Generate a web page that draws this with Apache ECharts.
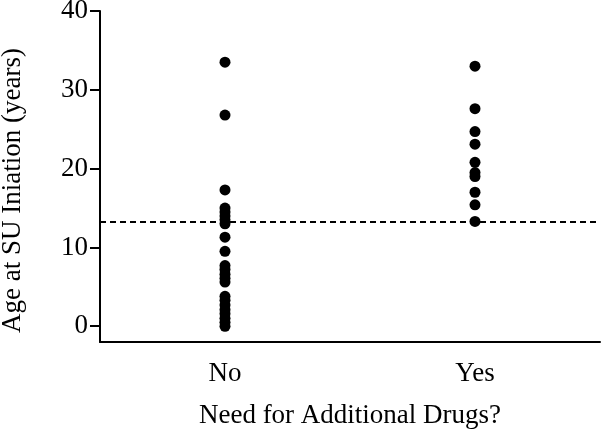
<!DOCTYPE html>
<html>
<head>
<meta charset="utf-8">
<script src="https://cdn.jsdelivr.net/npm/echarts@6/dist/echarts.min.js"></script>
<style>
  html, body { margin: 0; padding: 0; background: #fff; }
  #chart { width: 601px; height: 429px; }
</style>
</head>
<body>
<div id="chart"></div>
<script>
var categories = ["No", "Yes"];
var noValues = [33.5, 26.8, 17.3, 15.0, 14.5, 14.0, 13.5, 13.0, 11.3, 9.5,
  7.7, 7.2, 6.6, 6.1, 5.6, 3.8, 3.3, 2.7, 2.1, 1.6, 1.0, 0.5, 0.0];
var yesValues = [33.0, 27.6, 24.7, 23.1, 20.8, 19.5, 19.0, 17.0, 15.4, 13.3];
var cutoff = 13.2;
var yTicks = [0, 10, 20, 30, 40];

var pts = [];
noValues.forEach(function (v) { pts.push([categories[0], v]); });
yesValues.forEach(function (v) { pts.push([categories[1], v]); });

var font = "Liberation Serif";
var myChart = echarts.init(document.getElementById("chart"));
var option = {
  animation: false,
  grid: { left: 100, right: 1, top: 11, bottom: 87, containLabel: false, outerBoundsMode: "none" },
  xAxis: {
    type: "category",
    data: categories,
    name: "Need for Additional Drugs?",
    nameLocation: "middle",
    nameGap: 60,
    nameTextStyle: { fontFamily: font, fontSize: 27, color: "#000" },
    axisLine: { onZero: false, lineStyle: { color: "#000", width: 2 } },
    axisTick: { alignWithLabel: true, length: 10, lineStyle: { color: "#000", width: 2 } },
    axisLabel: { margin: 18, fontFamily: font, fontSize: 27, color: "#000" },
    splitLine: { show: false }
  },
  yAxis: {
    type: "value",
    min: -2,
    max: 40,
    name: "Age at SU Iniation (years)",
    nameLocation: "middle",
    nameGap: 74,
    nameTextStyle: { fontFamily: font, fontSize: 27, color: "#000", padding: [0, 28, 0, 0] },
    axisLine: { show: true, lineStyle: { color: "#000", width: 2 } },
    axisTick: { show: true, length: 10, customValues: yTicks, lineStyle: { color: "#000", width: 2 } },
    axisLabel: { margin: 12, customValues: yTicks, fontFamily: font, fontSize: 27, color: "#000" },
    splitLine: { show: false }
  },
  series: [{
    type: "scatter",
    data: pts,
    symbolSize: 11,
    itemStyle: { color: "#000", opacity: 1 },
    markLine: {
      silent: true,
      symbol: "none",
      label: { show: false },
      lineStyle: { color: "#000", width: 2, type: [6, 4] },
      data: [{ yAxis: cutoff }]
    }
  }]
};
myChart.setOption(option);
</script>
</body>
</html>
